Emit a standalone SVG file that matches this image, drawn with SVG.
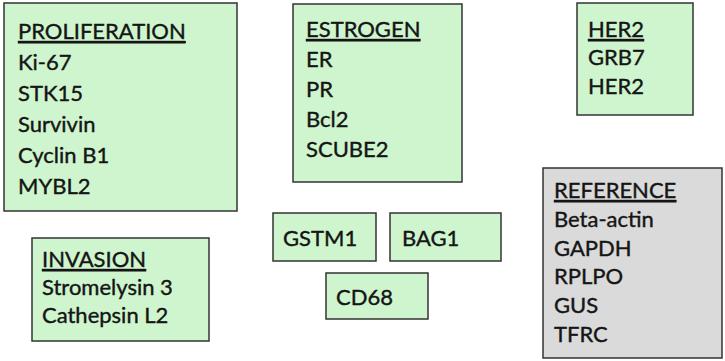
<svg xmlns="http://www.w3.org/2000/svg" width="725" height="361" viewBox="0 0 725 361">
<style>
.box{fill:#cff5cf;stroke:#333333;stroke-width:1.5}
.gbox{fill:#dadada;stroke:#333333;stroke-width:1.5}
text{font-family:Lato,"Liberation Sans",sans-serif;font-size:22px;fill:#151515;stroke:#151515;stroke-width:0.4}
.h{text-decoration:underline}
</style>
<rect width="725" height="361" fill="#ffffff"/>
<g id="proliferation">
<rect class="box" x="4" y="3" width="233" height="208"/>
<text x="18" y="39" class="h">PROLIFERATION</text>
<text x="18" y="70">Ki-67</text>
<text x="18" y="101">STK15</text>
<text x="18" y="132">Survivin</text>
<text x="18" y="163">Cyclin B1</text>
<text x="18" y="194">MYBL2</text>
</g>
<g id="estrogen">
<rect class="box" x="293" y="4" width="169" height="178"/>
<text x="306" y="37" class="h">ESTROGEN</text>
<text x="306" y="67">ER</text>
<text x="306" y="97">PR</text>
<text x="306" y="127">Bcl2</text>
<text x="306" y="157">SCUBE2</text>
</g>
<g id="her2">
<rect class="box" x="577" y="3" width="116" height="112"/>
<text x="588" y="37" class="h">HER2</text>
<text x="588" y="65">GRB7</text>
<text x="588" y="94">HER2</text>
</g>
<g id="invasion">
<rect class="box" x="32" y="238" width="177" height="103"/>
<text x="42" y="267" class="h">INVASION</text>
<text x="42" y="295">Stromelysin 3</text>
<text x="42" y="323">Cathepsin L2</text>
</g>
<g id="gstm1">
<rect class="box" x="273" y="213" width="103" height="48"/>
<text x="283" y="246">GSTM1</text>
</g>
<g id="bag1">
<rect class="box" x="390" y="213" width="111" height="48"/>
<text x="402" y="246">BAG1</text>
</g>
<g id="cd68">
<rect class="box" x="326" y="273" width="102" height="46"/>
<text x="336" y="305">CD68</text>
</g>
<g id="reference">
<rect class="gbox" x="543" y="168" width="179" height="190"/>
<text x="554" y="198" class="h">REFERENCE</text>
<text x="554" y="227">Beta-actin</text>
<text x="554" y="256">GAPDH</text>
<text x="554" y="284">RPLPO</text>
<text x="554" y="313">GUS</text>
<text x="554" y="342">TFRC</text>
</g>
<g id="connectors"></g>
</svg>
